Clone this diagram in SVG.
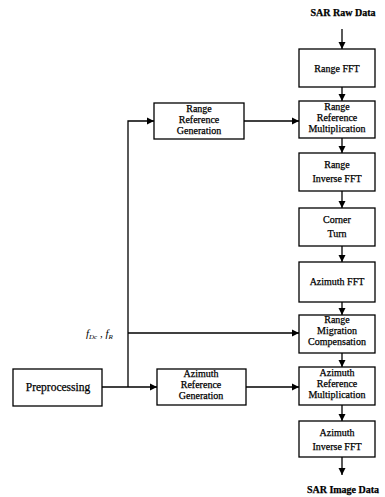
<svg xmlns="http://www.w3.org/2000/svg" width="385" height="497" viewBox="0 0 385 497">
<style>
.box{fill:#fff;stroke:#000;stroke-width:1.3}
.t{font-family:"Liberation Serif","Times New Roman",serif;font-size:10px;fill:#000;text-anchor:middle;stroke:#000;stroke-width:0.25}
.l{fill:none;stroke:#000;stroke-width:1.3}
</style>
<defs>
<marker id="a" markerWidth="8" markerHeight="8" refX="7" refY="4" orient="auto" markerUnits="userSpaceOnUse">
<path d="M0,0.5 L7,4 L0,7.5 Z" fill="#000"/>
</marker>
</defs>
<text class="t" x="343" y="16" font-weight="bold">SAR Raw Data</text>
<g id="rangeFFT"><rect class="box" x="299" y="49" width="76" height="38"/><text class="t" x="337" y="72">Range FFT</text></g>
<g id="rangeRefMult"><rect class="box" x="299" y="101" width="76" height="37"/><text class="t" x="337" y="110">Range</text><text class="t" x="337" y="121">Reference</text><text class="t" x="337" y="132">Multiplication</text></g>
<g id="rangeIFFT"><rect class="box" x="299" y="153" width="76" height="38"/><text class="t" x="337" y="168">Range</text><text class="t" x="337" y="182">Inverse FFT</text></g>
<g id="cornerTurn"><rect class="box" x="299" y="208" width="76" height="38"/><text class="t" x="337" y="223">Corner</text><text class="t" x="337" y="237">Turn</text></g>
<g id="azimuthFFT"><rect class="box" x="299" y="262" width="76" height="40"/><text class="t" x="337" y="285">Azimuth FFT</text></g>
<g id="rmc"><rect class="box" x="299" y="315" width="76" height="38"/><text class="t" x="337" y="323">Range</text><text class="t" x="337" y="334">Migration</text><text class="t" x="337" y="345">Compensation</text></g>
<g id="azRefMult"><rect class="box" x="299" y="367" width="76" height="38"/><text class="t" x="337" y="376">Azimuth</text><text class="t" x="337" y="387">Reference</text><text class="t" x="337" y="398">Multiplication</text></g>
<g id="azIFFT"><rect class="box" x="299" y="421" width="76" height="36"/><text class="t" x="337" y="436">Azimuth</text><text class="t" x="337" y="450">Inverse FFT</text></g>
<text class="t" x="343" y="493" font-weight="bold">SAR Image Data</text>
<g id="rangeRefGen"><rect class="box" x="154" y="103" width="90" height="36"/><text class="t" x="199" y="112">Range</text><text class="t" x="199" y="123">Reference</text><text class="t" x="199" y="134">Generation</text></g>
<g id="preproc"><rect class="box" x="13" y="369" width="89" height="37"/><text class="t" x="58" y="391" style="font-size:11.5px">Preprocessing</text></g>
<g id="azRefGen"><rect class="box" x="157" y="369" width="89" height="36"/><text class="t" x="201" y="377">Azimuth</text><text class="t" x="201" y="388">Reference</text><text class="t" x="201" y="399">Generation</text></g>
<text x="86" y="337" font-family="'Liberation Serif','Times New Roman',serif" font-size="11" font-style="italic">f<tspan font-size="7" dy="2">Dc</tspan><tspan dy="-2"> , f</tspan><tspan font-size="7" dy="2">R</tspan></text>
<g id="connectors">
<line class="l" x1="342" y1="29" x2="342" y2="49" marker-end="url(#a)"/>
<line class="l" x1="342" y1="87" x2="342" y2="101" marker-end="url(#a)"/>
<line class="l" x1="342" y1="138" x2="342" y2="153" marker-end="url(#a)"/>
<line class="l" x1="342" y1="191" x2="342" y2="208" marker-end="url(#a)"/>
<line class="l" x1="342" y1="246" x2="342" y2="262" marker-end="url(#a)"/>
<line class="l" x1="342" y1="302" x2="342" y2="315" marker-end="url(#a)"/>
<line class="l" x1="342" y1="353" x2="342" y2="367" marker-end="url(#a)"/>
<line class="l" x1="342" y1="405" x2="342" y2="421" marker-end="url(#a)"/>
<line class="l" x1="342" y1="457" x2="342" y2="475" marker-end="url(#a)"/>
<line class="l" x1="244" y1="121" x2="299" y2="121" marker-end="url(#a)"/>
<polyline class="l" points="128,387 128,121 154,121" marker-end="url(#a)"/>
<line class="l" x1="128" y1="333" x2="299" y2="333" marker-end="url(#a)"/>
<line class="l" x1="102" y1="387" x2="157" y2="387" marker-end="url(#a)"/>
<line class="l" x1="246" y1="387" x2="299" y2="387" marker-end="url(#a)"/>
</g>
</svg>
